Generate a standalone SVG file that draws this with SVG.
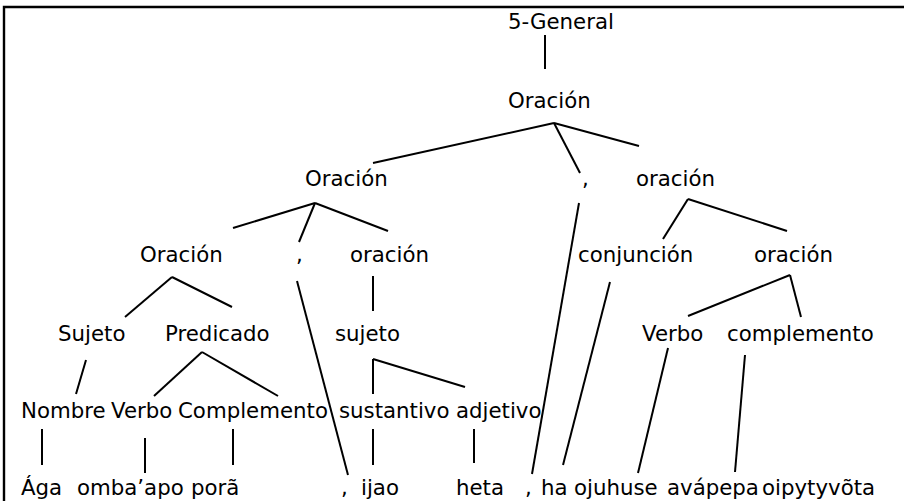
<svg xmlns="http://www.w3.org/2000/svg" width="904" height="501" viewBox="0 0 904 501">
<style>
text{font-family:"DejaVu Sans","Verdana",sans-serif;font-size:21.3px;fill:#000}
.e{stroke:#000;stroke-width:2;fill:none}
.f{stroke:#000;stroke-width:2.4;fill:none}
</style>
<rect width="904" height="501" fill="#fff"/>
<path class="f" d="M4,501 V7 H904"/>
<g id="connectors">
<line class="e" x1="545" y1="35" x2="545" y2="69"/>
<line class="e" x1="554" y1="123" x2="373" y2="163"/>
<line class="e" x1="554" y1="123" x2="580" y2="173"/>
<line class="e" x1="554" y1="123" x2="639" y2="146"/>
<line class="e" x1="315" y1="203" x2="233" y2="228"/>
<line class="e" x1="315" y1="203" x2="299" y2="242"/>
<line class="e" x1="315" y1="203" x2="388" y2="231"/>
<line class="e" x1="688" y1="199" x2="663" y2="239"/>
<line class="e" x1="688" y1="199" x2="787" y2="231"/>
<line class="e" x1="579" y1="203" x2="532" y2="474"/>
<line class="e" x1="172" y1="277" x2="125" y2="317"/>
<line class="e" x1="172" y1="277" x2="232" y2="307"/>
<line class="e" x1="297" y1="281" x2="348" y2="475"/>
<line class="e" x1="373" y1="276" x2="373" y2="311"/>
<line class="e" x1="610" y1="282" x2="563" y2="465"/>
<line class="e" x1="790" y1="275" x2="688" y2="316"/>
<line class="e" x1="790" y1="275" x2="801" y2="317"/>
<line class="e" x1="86" y1="360" x2="76" y2="394"/>
<line class="e" x1="202" y1="352" x2="154" y2="396"/>
<line class="e" x1="202" y1="352" x2="278" y2="396"/>
<line class="e" x1="373" y1="359" x2="373" y2="394"/>
<line class="e" x1="373" y1="359" x2="465" y2="387"/>
<line class="e" x1="668" y1="348" x2="638" y2="473"/>
<line class="e" x1="745" y1="355" x2="735" y2="472"/>
<line class="e" x1="42" y1="429" x2="42" y2="465"/>
<line class="e" x1="145" y1="438" x2="145" y2="473"/>
<line class="e" x1="233" y1="429" x2="233" y2="465"/>
<line class="e" x1="373" y1="429" x2="373" y2="465"/>
<line class="e" x1="474" y1="429" x2="474" y2="463"/>
</g>
<g id="n-general"><text x="508" y="29">5-General</text></g>
<g id="n-root"><text x="508" y="108">Oración</text></g>
<g id="n-or2"><text x="305" y="186">Oración</text></g>
<g id="n-comma2"><text x="582" y="186">,</text></g>
<g id="n-or2r"><text x="636" y="186">oración</text></g>
<g id="n-or3"><text x="140" y="262">Oración</text></g>
<g id="n-comma3"><text x="296" y="262">,</text></g>
<g id="n-or3m"><text x="350" y="262">oración</text></g>
<g id="n-conj"><text x="578" y="262">conjunción</text></g>
<g id="n-or3r"><text x="754" y="262">oración</text></g>
<g id="n-sujeto"><text x="58" y="341">Sujeto</text></g>
<g id="n-predicado"><text x="165" y="341">Predicado</text></g>
<g id="n-sujeto2"><text x="335" y="341">sujeto</text></g>
<g id="n-verbo2"><text x="642" y="341">Verbo</text></g>
<g id="n-compl2"><text x="727" y="341">complemento</text></g>
<g id="n-nombre"><text x="21" y="418">Nombre</text></g>
<g id="n-verbo"><text x="111" y="418">Verbo</text></g>
<g id="n-compl"><text x="178" y="418">Complemento</text></g>
<g id="n-sust"><text x="339" y="418">sustantivo</text></g>
<g id="n-adj"><text x="456" y="418">adjetivo</text></g>
<g id="w-aga"><text x="21" y="495">Ága</text></g>
<g id="w-ombaapo"><text x="77" y="495">omba’apo</text></g>
<g id="w-pora"><text x="191" y="495">porã</text></g>
<g id="w-comma1"><text x="341" y="495">,</text></g>
<g id="w-ijao"><text x="361" y="495">ijao</text></g>
<g id="w-heta"><text x="456" y="495">heta</text></g>
<g id="w-comma2"><text x="525" y="495">,</text></g>
<g id="w-ha"><text x="541" y="495">ha</text></g>
<g id="w-ojuhuse"><text x="574" y="495">ojuhuse</text></g>
<g id="w-avapepa"><text x="667" y="495">avápepa</text></g>
<g id="w-oipytyvota"><text x="762" y="495">oipytyvõta</text></g>
</svg>
